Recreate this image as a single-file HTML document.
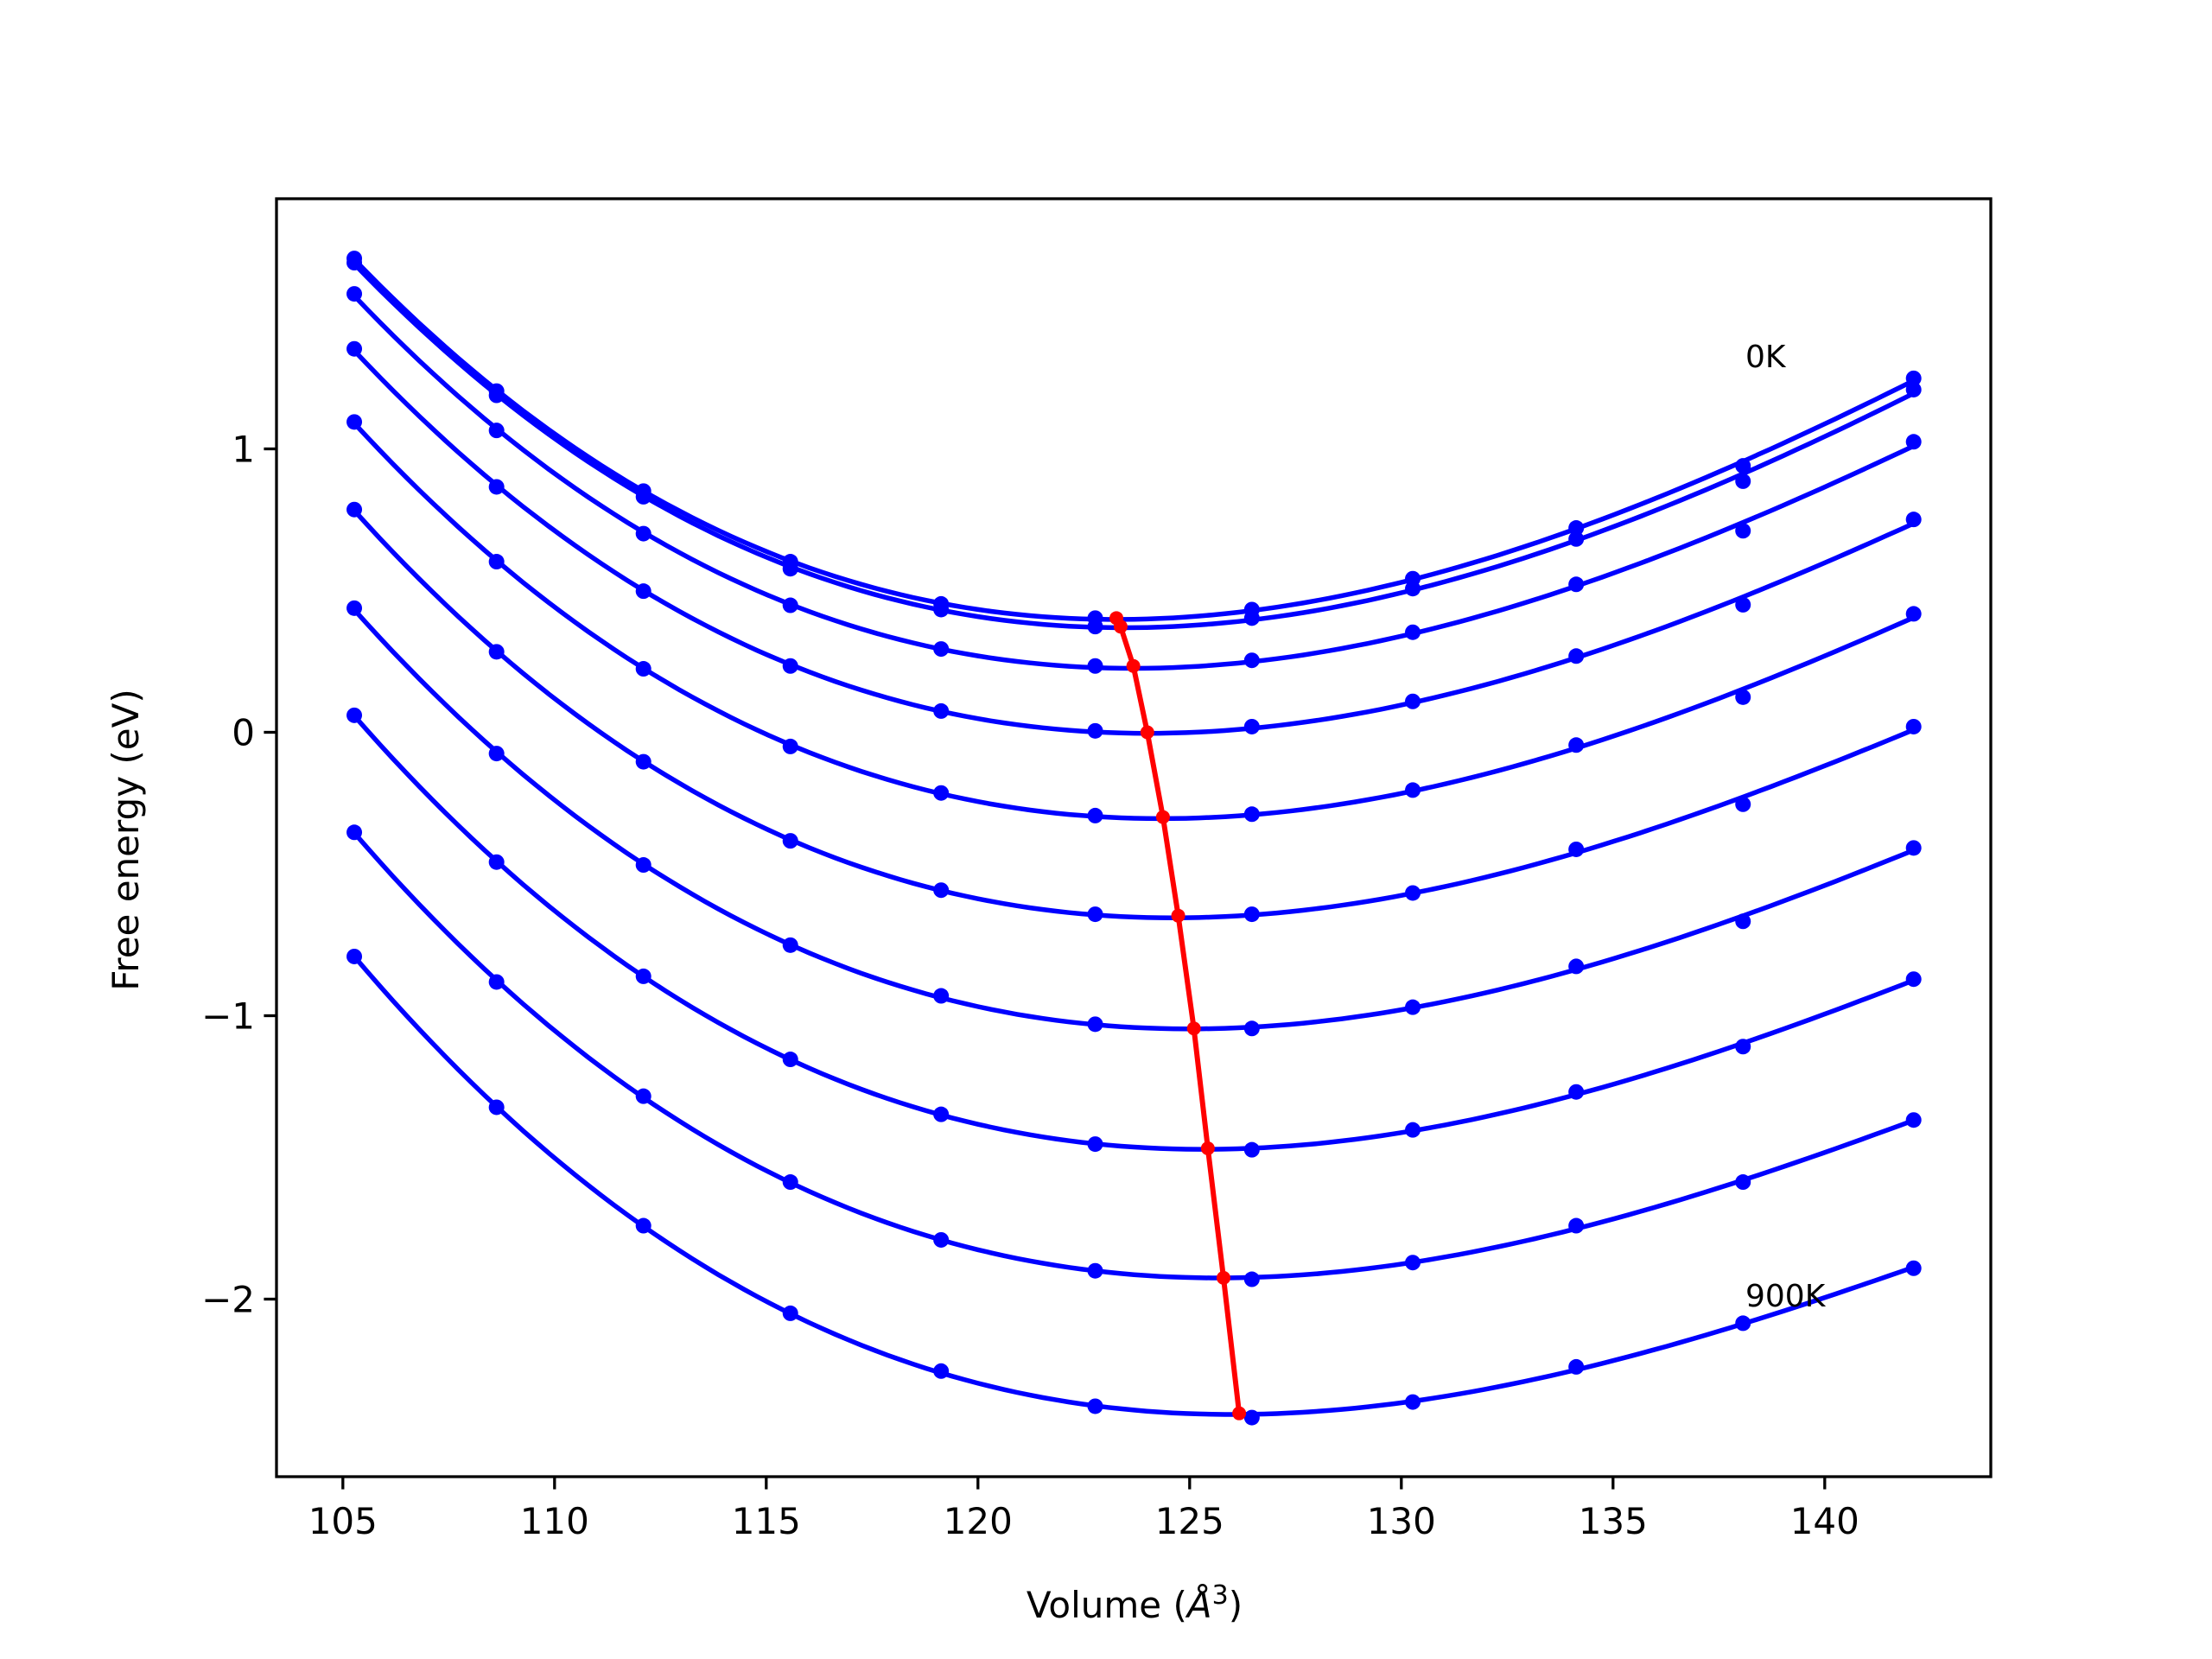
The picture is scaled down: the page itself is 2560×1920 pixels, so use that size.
<!DOCTYPE html>
<html><head><meta charset="utf-8"><style>
html,body{margin:0;padding:0;background:#fff;}
svg{display:block;font-family:"DejaVu Sans","Liberation Sans",sans-serif;}
</style></head><body>
<svg id="chart" width="2560" height="1920" viewBox="0 0 2560 1920" xmlns="http://www.w3.org/2000/svg">
<rect width="2560" height="1920" fill="#fff"/>
<g id="plot"></g>
<g id="axes"></g>
<text x="2020" y="425" font-size="36">0K</text>
<text x="2020" y="1512" font-size="36">900K</text>
<text x="0" y="0" font-size="42" text-anchor="middle" transform="translate(160,972) rotate(-90)">Free energy (eV)</text>
<text x="1313" y="1872" font-size="42" text-anchor="middle">Volume (<tspan font-style="italic">Å</tspan><tspan font-size="30" dy="-16">3</tspan><tspan dy="16">)</tspan></text>
</svg>
<script>
const volumes=[105.27,108.63,112.1,115.57,119.13,122.77,126.47,130.27,134.13,138.07,142.1];
const energies0=[1.672,1.204,0.851,0.602,0.453,0.403,0.433,0.542,0.721,0.94,1.249];
const energies1=[1.657,1.189,0.831,0.577,0.433,0.373,0.403,0.507,0.682,0.886,1.209];
const energies2=[1.547,1.065,0.701,0.448,0.294,0.234,0.254,0.353,0.522,0.711,1.025];
const energies3=[1.353,0.866,0.498,0.234,0.075,0.005,0.02,0.109,0.269,0.45,0.751];
const energies4=[1.095,0.602,0.224,-0.05,-0.214,-0.294,-0.289,-0.204,-0.045,0.124,0.418];
const energies5=[0.786,0.284,-0.104,-0.383,-0.557,-0.642,-0.642,-0.567,-0.413,-0.254,0.02];
const energies6=[0.438,-0.075,-0.468,-0.751,-0.93,-1.03,-1.045,-0.97,-0.826,-0.667,-0.408];
const energies7=[0.06,-0.458,-0.861,-1.154,-1.348,-1.453,-1.473,-1.403,-1.269,-1.109,-0.871];
const energies8=[-0.353,-0.881,-1.284,-1.587,-1.791,-1.9,-1.93,-1.871,-1.741,-1.587,-1.368];
const energies9=[-0.791,-1.323,-1.741,-2.05,-2.254,-2.378,-2.418,-2.363,-2.239,-2.085,-1.891];
const minVolumes=[123.27,123.37,123.67,124.0,124.37,124.73,125.1,125.43,125.8,126.17];
const minEnergies=[0.403,0.373,0.234,0.0,-0.299,-0.647,-1.045,-1.468,-1.925,-2.403];
const xTicks=[105,110,115,120,125,130,135,140];
const yTicks=[1,0,-1,-2];
const yTickLabels=["1","0","\u22122","\u22122"];
yTickLabels[2]="\u22121";

const L=320,R=2304,T=230,B=1709;
function xs(v){return 396.8+(v-105)*49.0;}
function ys(e){return 847.5-e*328;}
const NS="http://www.w3.org/2000/svg";
const plot=document.getElementById('plot'),axes=document.getElementById('axes');
function mk(tag,attrs,parent){const el=document.createElementNS(NS,tag);for(const k in attrs)el.setAttribute(k,attrs[k]);parent.appendChild(el);return el;}

// cubic least squares fit
function fit(xv,yv){
  const m=124;const n=4;const A=[];for(let i=0;i<n;i++){A.push(new Array(n+1).fill(0));}
  for(let k=0;k<xv.length;k++){const t=(xv[k]-m)/10;const p=[1,t,t*t,t*t*t];
    for(let i=0;i<n;i++){for(let j=0;j<n;j++)A[i][j]+=p[i]*p[j];A[i][n]+=p[i]*yv[k];}}
  for(let i=0;i<n;i++){let piv=A[i][i];for(let j=i;j<=n;j++)A[i][j]/=piv;
    for(let r=0;r<n;r++){if(r!==i){const f=A[r][i];for(let j=i;j<=n;j++)A[r][j]-=f*A[i][j];}}}
  const c=A.map(r=>r[n]);
  return v=>{const t=(v-m)/10;return c[0]+c[1]*t+c[2]*t*t+c[3]*t*t*t;};
}
const series=[energies0,energies1,energies2,energies3,energies4,energies5,energies6,energies7,energies8,energies9];
series.forEach((es,si)=>{
  const f=fit(volumes,es);
  let d="";const v0=volumes[0],v1=volumes[volumes.length-1];
  for(let i=0;i<=120;i++){const v=v0+(v1-v0)*i/120;d+=(i?"L":"M")+xs(v).toFixed(1)+","+ys(f(v)).toFixed(1);}
  const p=mk('path',{d:d,fill:'none',stroke:'#0000ff','stroke-width':5.5},plot);
  
  
  es.forEach((e,i)=>{
    const c=mk('circle',{cx:xs(volumes[i]),cy:ys(e),r:9,fill:'#0000ff'},plot);
    
    
  });
});
let md="";minVolumes.forEach((v,i)=>{md+=(i?"L":"M")+xs(v)+","+ys(minEnergies[i]);});
const ml=mk('path',{d:md,fill:'none',stroke:'#ff0000','stroke-width':6},plot);


minVolumes.forEach((v,i)=>{
  const c=mk('circle',{cx:xs(v),cy:ys(minEnergies[i]),r:8,fill:'#ff0000'},plot);
  
  
});
const fr=mk('rect',{x:L,y:T,width:R-L,height:B-T,fill:'none',stroke:'#000','stroke-width':3.3},axes);


xTicks.forEach(t=>{
  const x=xs(t);
  const ln=mk('line',{x1:x,y1:B,x2:x,y2:B+14.6,stroke:'#000','stroke-width':3.3},axes);
  
  
  const tx=mk('text',{x:x,y:B+66,'font-size':42,'text-anchor':'middle'},axes);
  tx.textContent=String(t);
  
  
});
yTicks.forEach((t,i)=>{
  const y=ys(t);
  const ln=mk('line',{x1:L-14.6,y1:y,x2:L,y2:y,stroke:'#000','stroke-width':3.3},axes);
  
  
  const tx=mk('text',{x:L-25,y:y+15,'font-size':42,'text-anchor':'end'},axes);
  tx.textContent=yTickLabels[i];
  
  
});
</script>
</body></html>
